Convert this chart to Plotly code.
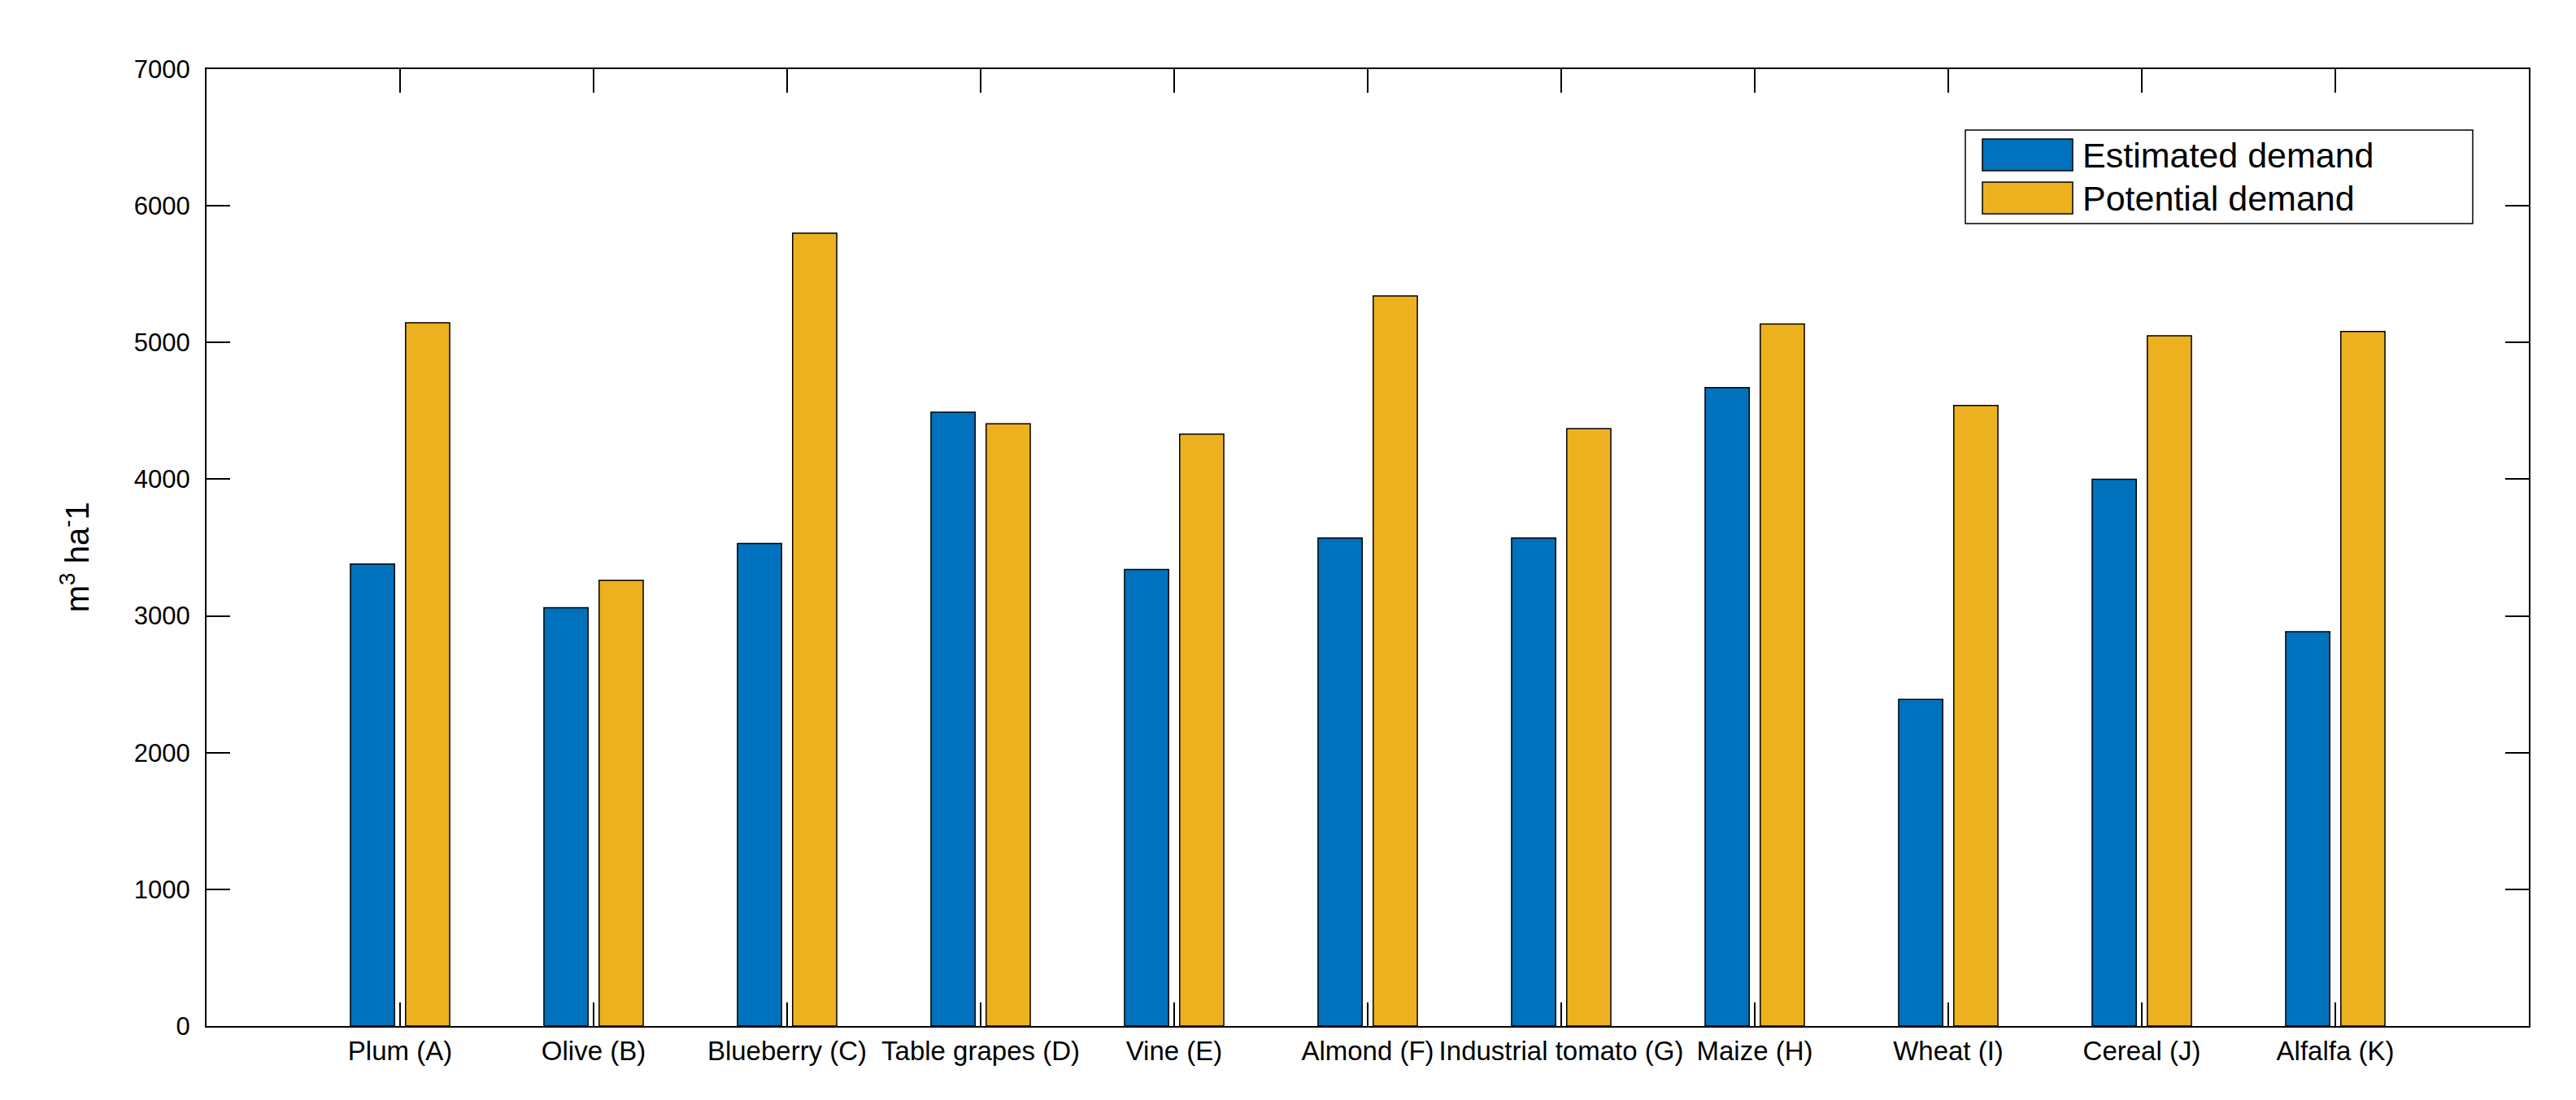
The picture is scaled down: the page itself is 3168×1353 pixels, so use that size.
import plotly.graph_objects as go

categories = ["Plum (A)", "Olive (B)", "Blueberry (C)", "Table grapes (D)", "Vine (E)",
              "Almond (F)", "Industrial tomato (G)", "Maize (H)", "Wheat (I)", "Cereal (J)",
              "Alfalfa (K)"]
estimated_demand = [3380, 3060, 3530, 4490, 3340, 3570, 3570, 4670, 2390, 4000, 2885]
potential_demand = [5145, 3260, 5800, 4405, 4330, 5340, 4370, 5135, 4540, 5050, 5080]
series_names = ["Estimated demand", "Potential demand"]
series_colors = ["#0072BD", "#EDB120"]
y_ticks = [0, 1000, 2000, 3000, 4000, 5000, 6000, 7000]

FONT = "Liberation Sans, Arial, Helvetica, sans-serif"

fig = go.Figure()
for name, vals, col in zip(series_names, [estimated_demand, potential_demand], series_colors):
    fig.add_trace(go.Bar(
        x=categories, y=vals, name=name,
        marker=dict(color=col, line=dict(color="black", width=1.5)),
        showlegend=False,
    ))

# page has an 8px body margin; size the figure so it fits inside the window
OFF = 8
W, H = 3160, 1345
L, R, T, B = 246, 58, 77, 91
pw, ph = W - L - R, H - T - B

def px_x(x):
    return (x - OFF - L) / pw

def px_y(y):
    return (OFF + T + ph - y) / ph

# MATLAB-style legend box
shapes = [dict(type="rect", xref="paper", yref="paper",
               x0=px_x(2417), x1=px_x(3041), y0=px_y(275), y1=px_y(160),
               line=dict(color="black", width=1.5), fillcolor="white", layer="above")]
annotations = []
sw_tops = [171, 224]
for name, col, top in zip(series_names, series_colors, sw_tops):
    shapes.append(dict(type="rect", xref="paper", yref="paper",
                       x0=px_x(2438), x1=px_x(2549), y0=px_y(top + 39), y1=px_y(top),
                       line=dict(color="black", width=1.5), fillcolor=col, layer="above"))
    annotations.append(dict(xref="paper", yref="paper", x=px_x(2559), y=px_y(top + 19.5),
                            text=name, showarrow=False, xanchor="left", yanchor="middle",
                            font=dict(family=FONT, size=43, color="black")))

# y-axis title
annotations.append(dict(xref="paper", yref="paper", x=px_x(92), y=0.49,
                        text="m<sup>3</sup> ha<sup>-</sup>1", textangle=-90, showarrow=False,
                        xanchor="center", yanchor="middle",
                        font=dict(family=FONT, size=40, color="black")))

fig.update_layout(
    width=W, height=H,
    margin=dict(l=L, r=R, t=T, b=B, autoexpand=False),
    paper_bgcolor="white", plot_bgcolor="white",
    barmode="group", bargap=0.43, bargroupgap=0.2,
    shapes=shapes, annotations=annotations,
    showlegend=False,
    xaxis=dict(
        type="category", range=[-1, len(categories)],
        showline=True, linecolor="black", linewidth=2, mirror="allticks",
        ticks="inside", ticklen=29, tickwidth=1.5, tickcolor="black",
        showgrid=False, zeroline=False,
        tickangle=0,
        tickfont=dict(family=FONT, size=33, color="black"),
        ticklabelstandoff=0,
    ),
    yaxis=dict(
        range=[0, 7000], tickvals=y_ticks, ticktext=[str(v) for v in y_ticks],
        showline=True, linecolor="black", linewidth=2, mirror="allticks",
        ticks="inside", ticklen=29, tickwidth=1.5, tickcolor="black",
        showgrid=False, zeroline=False,
        tickfont=dict(family=FONT, size=31, color="black"),
        ticklabelstandoff=12,
    ),
)

fig.write_html("out.html")
